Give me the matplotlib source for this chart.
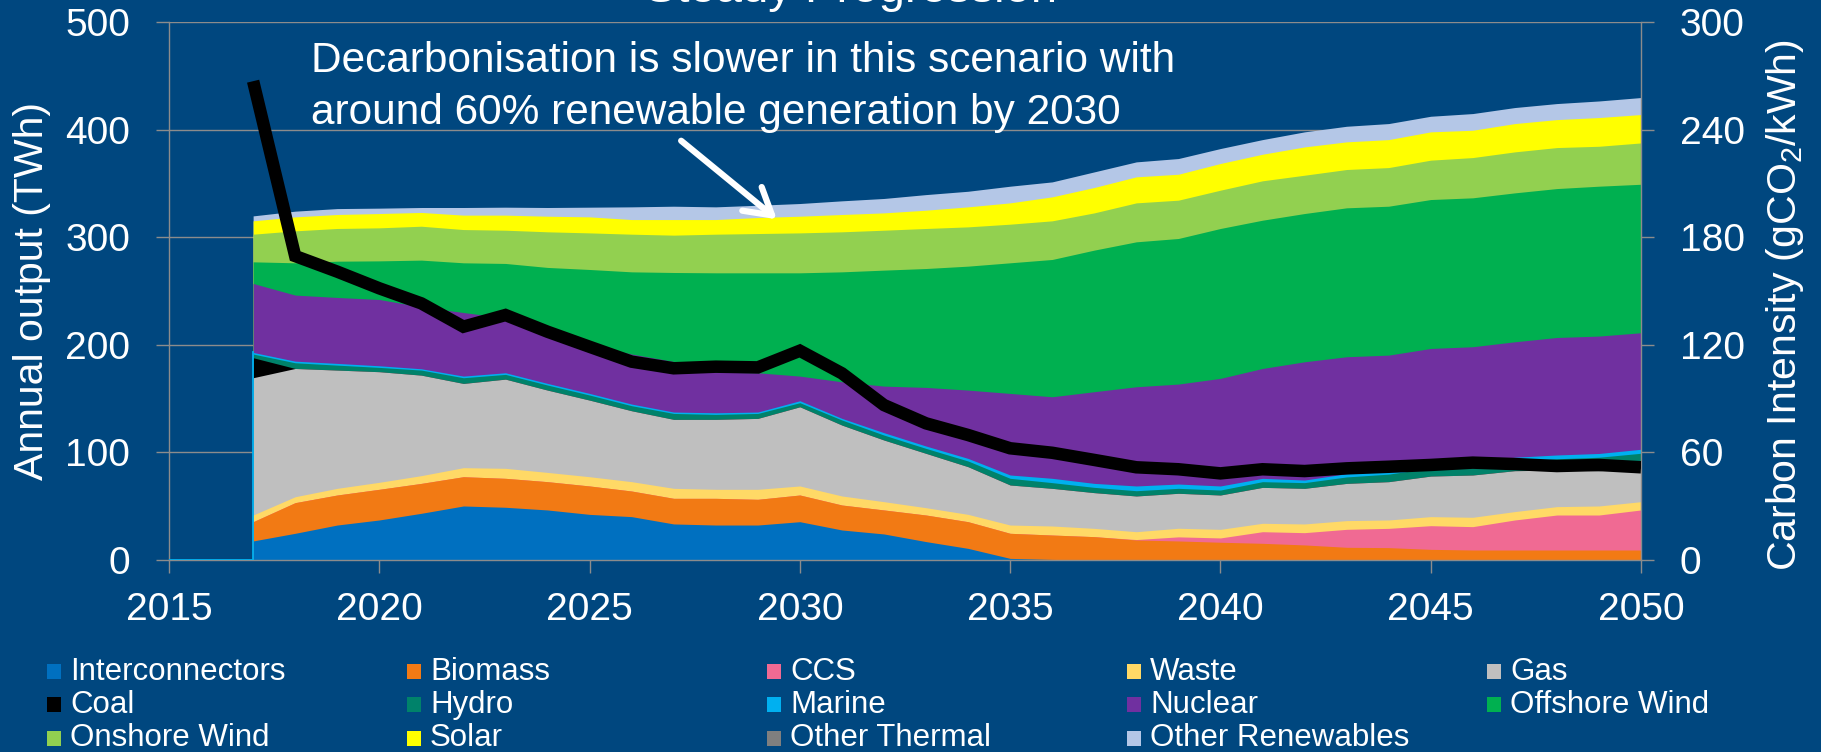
import numpy as np
import matplotlib
matplotlib.use("Agg")
import matplotlib.pyplot as plt
from matplotlib.patches import Rectangle, FancyArrowPatch

# ---------------- data (TWh) ----------------
years = list(range(2017, 2051))

interconnectors = [17.7, 24.8, 32.5, 37.2, 43.4, 50.2, 49.0, 46.5, 42.4, 40.3, 33.5, 32.5, 32.5, 35.6,
                   27.9, 24.2, 17.1, 10.8, 1.5, 0.5, 0, 0, 0, 0, 0, 0, 0, 0, 0, 0, 0, 0, 0, 0]
biomass = [17.9, 28.5, 27.9, 28.5, 27.8, 27.2, 26.9, 26.3, 26.4, 23.8, 23.8, 24.8, 23.9, 24.8,
           23.2, 22.3, 24.7, 24.8, 23.3, 22.7, 21.7, 18.6, 17.7, 16.5, 15.5, 14.0, 11.8, 11.5,
           9.9, 9.3, 9.3, 9.3, 9.3, 9.3]
ccs = [0, 0, 0, 0, 0, 0, 0, 0, 0, 0, 0, 0, 0, 0, 0, 0, 0, 0, 0, 0, 0, 0.4, 3.8, 4.0,
       10.8, 11.4, 16.7, 17.9, 22.0, 21.7, 27.9, 32.5, 32.5, 37.2]
waste = [6.2, 5.5, 6.2, 6.5, 7.2, 8.4, 9.3, 8.6, 8.6, 8.7, 9.3, 8.4, 9.3, 8.4, 8.4, 7.7, 6.8, 6.8,
         7.7, 8.4, 7.7, 7.3, 8.0, 8.0, 7.8, 8.1, 8.1, 7.8, 8.4, 8.7, 7.8, 7.8, 8.4, 7.7]
gas = [127.6, 119.2, 109.9, 102.8, 93.4, 78.3, 82.9, 76.5, 71.2, 65.9, 64.1, 65.0, 65.9, 73.6,
       65.9, 57.3, 50.5, 44.3, 37.2, 35.0, 33.2, 33.2, 32.5, 31.9, 33.4, 33.1, 34.6, 35.6,
       37.7, 39.3, 38.0, 34.0, 32.8, 31.0]
coal = [18.6, 0, 0, 0, 0, 0, 0, 0, 0, 0, 0, 0, 0, 0, 0, 0, 0, 0, 0, 0, 0, 0, 0, 0, 0, 0, 0, 0,
        0, 0, 0, 0, 0, 0]
hydro = [3.4, 5.3, 4.6, 4.0, 4.7, 5.3, 4.4, 4.7, 4.7, 4.7, 5.5, 4.6, 4.6, 3.8, 4.7, 4.6, 4.6, 5.3,
         6.2, 5.3, 4.9, 4.9, 4.6, 4.6, 5.3, 5.3, 6.0, 7.0, 7.5, 8.5, 9.0, 10.5, 12.5, 14.0]
marine = [1.5, 1.5, 1.6, 1.5, 1.2, 1.5, 1.5, 1.5, 1.5, 1.5, 1.3, 1.5, 1.3, 1.8, 1.5, 2.2, 2.2, 2.4,
          3.1, 4.0, 3.7, 4.4, 4.0, 3.8, 3.1, 2.4, 3.0, 3.0, 3.2, 3.3, 3.5, 3.5, 3.5, 3.7]
nuclear = [64.1, 61.4, 61.3, 61.6, 57.6, 59.1, 51.0, 46.9, 45.2, 46.5, 47.0, 37.7, 36.5, 22.9,
           34.0, 43.3, 54.5, 63.5, 75.8, 75.8, 85.2, 92.2, 92.9, 100.0, 102.1, 109.9, 108.7,
           107.6, 107.9, 107.4, 107.3, 109.2, 109.1, 108.3]
offshore_wind = [20.1, 30.0, 33.7, 35.9, 43.4, 46.2, 50.6, 60.9, 70.0, 76.4, 82.7, 92.4, 92.9,
                 96.0, 102.2, 107.8, 110.5, 115.2, 121.4, 127.6, 131.6, 134.7, 135.3, 139.3,
                 137.8, 137.8, 138.4, 138.4, 138.4, 138.4, 138.4, 138.4, 139.3, 138.0]
onshore_wind = [25.7, 29.7, 30.4, 30.7, 31.5, 30.9, 30.9, 33.1, 34.0, 35.0, 34.7, 35.9, 36.5,
                37.1, 37.2, 37.1, 37.2, 36.5, 35.9, 35.9, 34.6, 36.2, 35.6, 35.6, 36.6, 35.6,
                35.6, 35.9, 36.6, 37.4, 38.1, 38.1, 37.1, 38.4]
solar = [12.4, 13.0, 13.0, 13.3, 12.8, 13.4, 14.0, 14.5, 14.9, 13.6, 14.5, 13.6, 14.9, 15.5,
         16.1, 16.1, 17.0, 18.6, 19.8, 22.3, 23.6, 24.2, 24.1, 24.8, 24.7, 26.3, 25.7, 26.0,
         26.3, 25.4, 26.3, 26.0, 26.7, 26.4]
other_thermal = [0] * 34
other_renewables = [4.6, 5.3, 5.5, 5.0, 4.6, 7.1, 7.4, 8.1, 9.0, 11.8, 12.4, 11.8, 11.4, 11.8,
                    12.7, 13.4, 14.5, 14.5, 15.5, 13.9, 14.5, 13.9, 14.6, 13.9, 13.6, 14.0,
                    14.5, 14.9, 14.5, 15.5, 14.9, 14.9, 15.4, 15.8]

# carbon intensity (gCO2/kWh, right axis)
carbon_intensity = [267.0, 169.5, 160.8, 151.5, 143.1, 130.1, 136.6, 127.3, 118.9, 110.6, 106.9,
                    107.8, 107.4, 116.7, 104.1, 86.4, 76.2, 69.7, 62.3, 59.8, 55.8, 51.7, 50.6,
                    48.3, 50.6, 49.6, 51.1, 52.0, 53.0, 54.3, 53.5, 52.4, 53.0, 51.7]

series_names = ["Interconnectors", "Biomass", "CCS", "Waste", "Gas", "Coal", "Hydro", "Marine",
                "Nuclear", "Offshore Wind", "Onshore Wind", "Solar", "Other Thermal",
                "Other Renewables"]
series_values = [interconnectors, biomass, ccs, waste, gas, coal, hydro, marine, nuclear,
                 offshore_wind, onshore_wind, solar, other_thermal, other_renewables]
series_colors = ["#0070C0", "#F27A14", "#F06A93", "#FFD966", "#BFBFBF", "#000000", "#00826A",
                 "#00B0F0", "#7030A0", "#00B050", "#92D050", "#FFFF00", "#7F7F7F", "#B4C7E7"]

left_ticks = [0, 100, 200, 300, 400, 500]
right_ticks = [0, 60, 120, 180, 240, 300]
x_ticks = [2015, 2020, 2025, 2030, 2035, 2040, 2045, 2050]

# ---------------- style ----------------
plt.rcParams["font.family"] = ["Liberation Sans", "DejaVu Sans"]
plt.rcParams["mathtext.default"] = "regular"

W, H = 1821, 752
BG = "#00477F"
GRID = "#8C8C8C"
WHITE = "white"

fig = plt.figure(figsize=(W / 100, H / 100), dpi=100)
fig.patch.set_facecolor(BG)

ax = fig.add_axes([169 / W, 1 - 560 / H, (1641 - 169) / W, (560 - 22) / H])
ax.set_facecolor(BG)
ax.set_xlim(2015, 2050)
ax.set_ylim(0, 500)

# stacked areas, painted from the top layer downwards (no seams)
cum = np.cumsum(np.array(series_values, dtype=float), axis=0)
for i in reversed(range(len(series_values))):
    if max(series_values[i]) <= 0:
        continue
    ax.fill_between(years, 0, cum[i], color=series_colors[i], lw=0, zorder=2)

# left edge of the stack and the empty years before it
marine_idx = series_names.index("Marine")
ax.plot([ax.get_xlim()[0], years[0], years[0]], [0, 0, cum[marine_idx][0]],
        color="#00B0F0", lw=1.3, zorder=3)

ax.set_yticks(left_ticks)
ax.set_xticks(x_ticks)
ax.yaxis.grid(True, color=GRID, lw=1.0)
ax.set_axisbelow(True)
for s in ["left", "bottom", "right"]:
    ax.spines[s].set_color(GRID)
    ax.spines[s].set_linewidth(1.0)
ax.spines["top"].set_visible(False)
ax.tick_params(axis="both", direction="out", length=9.4, width=1.0, color=GRID,
               labelcolor=WHITE, labelsize=28)
ax.tick_params(axis="x", pad=13.5)
ax.tick_params(axis="y", pad=18.5)

# carbon-intensity line on the right axis
ax2 = ax.twinx()
ax2.set_ylim(0, 300)
ax2.set_yticks(right_ticks)
for s in ax2.spines.values():
    s.set_visible(False)
ax2.tick_params(axis="y", direction="out", length=9.4, width=1.0, color=GRID,
                labelcolor=WHITE, labelsize=28, pad=18.5)
ax2.plot(years, carbon_intensity, color="black", lw=9, solid_capstyle="butt",
         solid_joinstyle="miter", zorder=5)

# axis titles
fig.text(32.5 / W, 1 - 291 / H, "Annual output (TWh)", rotation=90, ha="center",
         va="center", color=WHITE, fontsize=29.5)
fig.text(1785 / W, 1 - 305 / H, "Carbon Intensity (gCO$_2$/kWh)", rotation=90, ha="center",
         va="center", color=WHITE, fontsize=29.5)

# partly cut-off title (it is cut by the top edge in the original too)
fig.text(851 / W, 1 - 1.5 / H, "Steady Progression", ha="center", va="baseline",
         color=WHITE, fontsize=34)

# annotation
fig.text(311 / W, 1 - 71.7 / H, "Decarbonisation is slower in this scenario with",
         ha="left", va="baseline", color=WHITE, fontsize=30.5)
fig.text(311 / W, 1 - 124.3 / H, "around 60% renewable generation by 2030",
         ha="left", va="baseline", color=WHITE, fontsize=30.5)
fig.add_artist(FancyArrowPatch(
    (679 / W, 1 - 139 / H), (779 / W, 1 - 221 / H), transform=fig.transFigure,
    arrowstyle="->,head_length=0.85,head_width=0.5", mutation_scale=22,
    color=WHITE, lw=4.5, zorder=10))

# legend (row-major, 5 columns)
for k, (name, col) in enumerate(zip(series_names, series_colors)):
    r, c = divmod(k, 5)
    xs = 47 + 360 * c
    yc = 671.7 + 33.2 * r
    fig.add_artist(Rectangle((xs / W, 1 - (yc + 7.5) / H), 14 / W, 15 / H,
                             transform=fig.transFigure, facecolor=col, edgecolor="none"))
    fig.text((xs + 23) / W, 1 - yc / H, name, ha="left", va="center", color=WHITE,
             fontsize=22.5)

fig.savefig("out.png", dpi=100, facecolor=BG)
